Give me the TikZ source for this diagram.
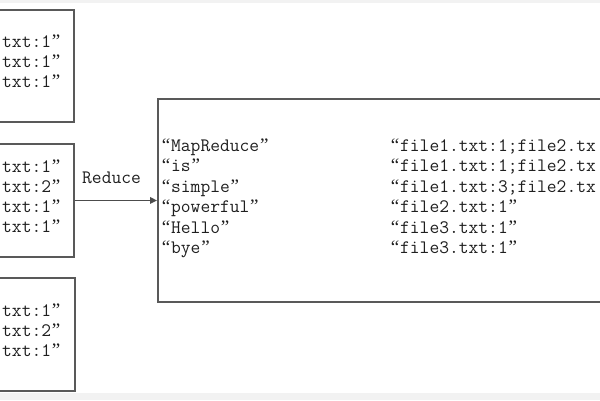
\documentclass[tikz,border=0pt]{standalone}
\usepackage{fontspec}
\usetikzlibrary{arrows.meta}
\newfontfamily\quotefont{Liberation Serif}
\newcommand\oq{\makebox[0.525em][c]{\quotefont“}}
\newcommand\cq{\makebox[0.525em][c]{\quotefont”}}
\begin{document}
\begin{tikzpicture}[x=1pt,y=-1pt,
  boxstyle/.style={draw=black!65,line width=1.9pt,inner sep=0pt,anchor=north west},
  txt/.style={font=\ttfamily\fontsize{19}{21}\selectfont,text=black!88,inner sep=0pt,anchor=base west},
  arr/.style={draw=black!70,line width=1.6pt,-{Triangle[length=7pt,width=6.5pt]}}]
\clip (0,0) rectangle (600,400);
\useasboundingbox (0,0) rectangle (600,400);
\fill[black!5] (0,0) rectangle (600,3);
\fill[black!5] (0,393) rectangle (600,400);
% boxes
\node[boxstyle,minimum width=83pt,minimum height=112pt] (b1) at (-10,9) {};
\node[boxstyle,minimum width=83pt,minimum height=113pt] (b2) at (-10,143) {};
\node[boxstyle,minimum width=84pt,minimum height=113pt] (b3) at (-10,277) {};
\node[boxstyle,minimum width=460pt,minimum height=203pt] (big) at (157,98) {};
% box 1 text
\node[txt] (t11) at (2,47) {txt:1\cq};
\node[txt] (t12) at (2,67) {txt:1\cq};
\node[txt] (t13) at (2,87) {txt:1\cq};
% box 2 text
\node[txt] (t21) at (2,172) {txt:1\cq};
\node[txt] (t22) at (2,192) {txt:2\cq};
\node[txt] (t23) at (2,212) {txt:1\cq};
\node[txt] (t24) at (2,232) {txt:1\cq};
% box 3 text
\node[txt] (t31) at (2,316) {txt:1\cq};
\node[txt] (t32) at (2,336) {txt:2\cq};
\node[txt] (t33) at (2,356) {txt:1\cq};
% arrow
\draw[arr] (b2.east) -- (big.west);
\node[txt] (red) at (82,183) {Reduce};
% big box left column
\node[txt] (k1) at (161,151) {\oq MapReduce\cq};
\node[txt] (k2) at (161,171.5) {\oq is\cq};
\node[txt] (k3) at (161,192) {\oq simple\cq};
\node[txt] (k4) at (161,212.5) {\oq powerful\cq};
\node[txt] (k5) at (161,233) {\oq Hello\cq};
\node[txt] (k6) at (161,253.5) {\oq bye\cq};
% big box right column
\node[txt] (v1) at (390,151) {\oq file1.txt:1;file2.tx};
\node[txt] (v2) at (390,171.5) {\oq file1.txt:1;file2.tx};
\node[txt] (v3) at (390,192) {\oq file1.txt:3;file2.tx};
\node[txt] (v4) at (390,212.5) {\oq file2.txt:1\cq};
\node[txt] (v5) at (390,233) {\oq file3.txt:1\cq};
\node[txt] (v6) at (390,253.5) {\oq file3.txt:1\cq};
\end{tikzpicture}
\end{document}
